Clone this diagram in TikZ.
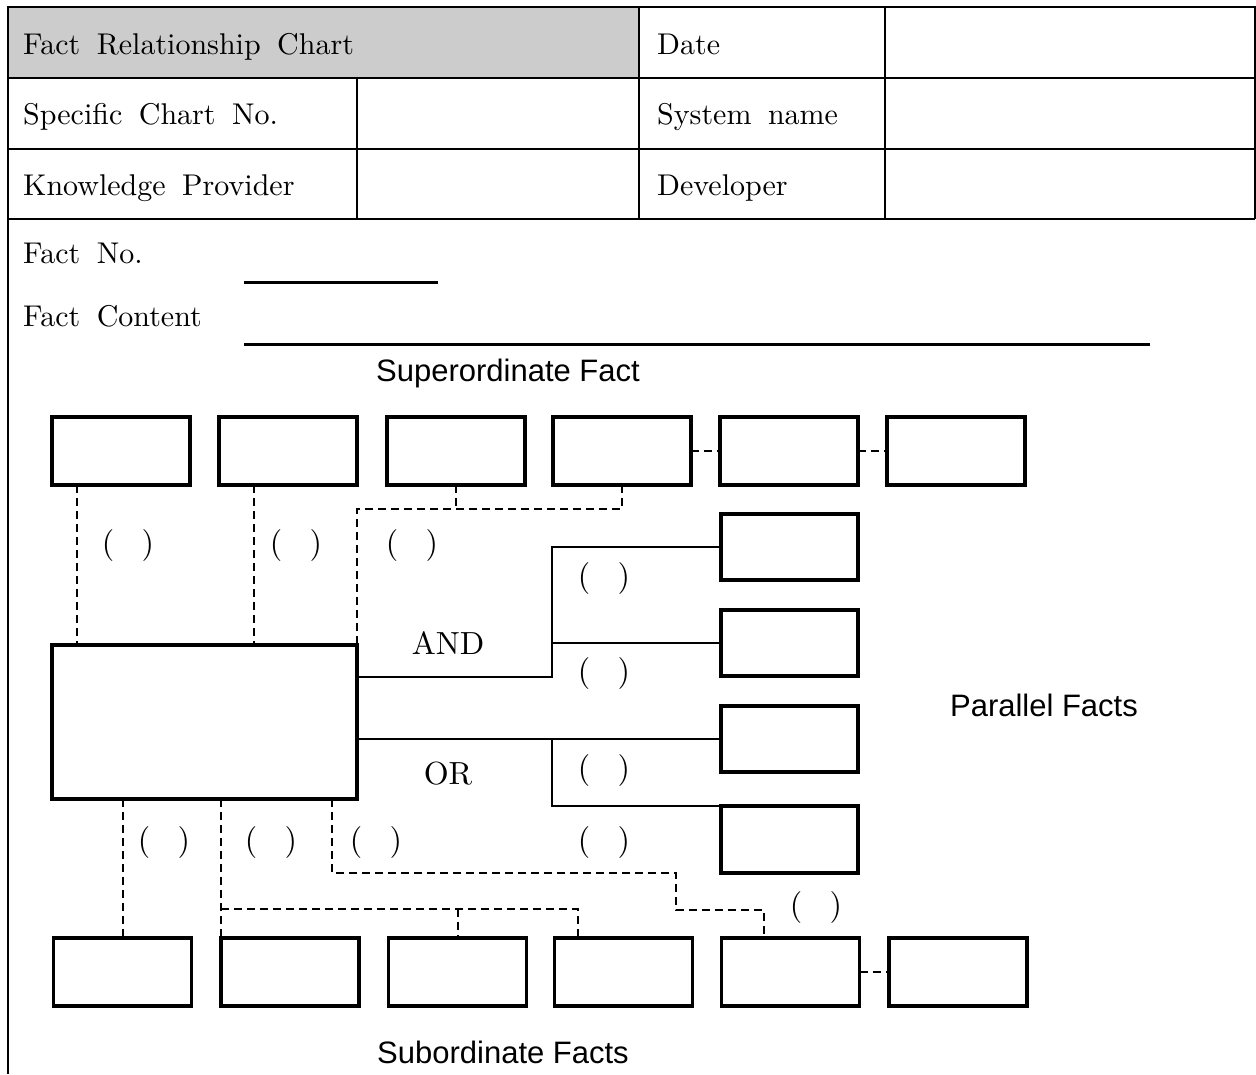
\documentclass[tikz,border=0pt]{standalone}
\usepackage{fontspec}
\setmainfont{lmroman10-regular.otf}
\newfontfamily\sansf{Liberation Sans}
\usetikzlibrary{calc}
\newcommand{\ws}{\hspace{0.55em}}
\newcommand{\pp}{(\hspace{0.85em})}
\begin{document}
\begin{tikzpicture}[x=1pt,y=-1pt,
  form/.style={line width=2.2pt},
  fbox/.style={draw,line width=3.8pt,minimum width=138pt,minimum height=68pt,inner sep=0pt,outer sep=0pt},
  pbox/.style={fbox,minimum width=137pt,minimum height=66.5pt},
  wire/.style={line width=1.8pt},
  dline/.style={line width=2pt,dash pattern=on 8pt off 5pt},
  lab/.style={inner sep=0pt,anchor=base west,font=\fontsize{30}{35}\selectfont},
  par/.style={inner sep=0pt,font=\fontsize{32}{37}\selectfont},
  sans/.style={inner sep=0pt,font=\sansf\fontsize{31}{36}\selectfont}
]
\useasboundingbox (0,0) rectangle (1256,1074);
% form
\fill[gray!40] (8,7) rectangle (639,78);
\draw[form] (8,1074) -- (8,7) -- (1255,7) -- (1255,219);
\draw[form] (8,78) -- (1255,78);
\draw[form] (8,149) -- (1255,149);
\draw[form] (8,219) -- (1255,219);
\draw[form] (639,7) -- (639,219);
\draw[form] (885,7) -- (885,219);
\draw[form] (357,78) -- (357,219);
\node[lab] (hdr) at (23,54) {Fact\ws Relationship\ws Chart};
\node[lab] (scn) at (23,124) {Specific\ws Chart\ws No.};
\node[lab] (kp) at (23,195) {Knowledge\ws Provider};
\node[lab] (dt) at (657,54) {Date};
\node[lab] (sn) at (657,124) {System\ws name};
\node[lab] (dv) at (657,195) {Developer};
\node[lab] (fno) at (23,263) {Fact\ws No.};
\node[lab] (fct) at (23,326) {Fact\ws Content};
\draw[line width=3pt] (244,282) -- (438,282);
\draw[line width=3pt] (244,344) -- (1150,344);
\node[sans] (sup) at (508,373) {Superordinate Fact};
\node[sans] (paf) at (1044,705) {Parallel Facts};
\node[sans] (sub) at (503,1052) {Subordinate Facts};
% boxes
\node[fbox] (t1) at (121,451) {};
\node[fbox] (t2) at (288,451) {};
\node[fbox] (t3) at (456,451) {};
\node[fbox] (t4) at (622,451) {};
\node[fbox] (t5) at (789,451) {};
\node[fbox] (t6) at (956,451) {};
\node[fbox,minimum width=305pt,minimum height=154pt] (main) at (204.5,722) {};
\node[pbox] (p1) at (789.5,547) {};
\node[pbox] (p2) at (789.5,643) {};
\node[pbox] (p3) at (789.5,739) {};
\node[pbox,minimum height=67.5pt] (p4) at (789.5,839.5) {};
\node[fbox] (b1) at (122.5,972) {};
\node[fbox] (b2) at (290,972) {};
\node[fbox] (b3) at (457.5,972) {};
\node[fbox] (b4) at (623.5,972) {};
\node[fbox] (b5) at (790.5,972) {};
\node[fbox] (b6) at (958,972) {};
% top dashed
\coordinate (ca) at (77,0);
\coordinate (cb) at (254,0);
\draw[dline] (t1.south -| ca) -- (main.north -| ca);
\draw[dline] (t2.south -| cb) -- (main.north -| cb);
\draw[dline] (t3.south) -- ++(0,24);
\draw[dline] (t4.south) -- ++(0,24) -| (main.north east);
\draw[dline] (t4.east) -- (t5.west);
\draw[dline] (t5.east) -- (t6.west);
% AND / OR
\coordinate (aj) at (552,0);
\draw[wire] ($(main.east)+(0,-45)$) -| (aj |- p1.west) -- (p1.west);
\draw[wire] (aj |- p2.west) -- (p2.west);
\draw[wire] (main.east |- p3.west) -- (p3.west);
\draw[wire] (aj |- p3.west) |- (p4.north west);
\node[par] (and) at (448,643) {AND};
\node[par] (or) at (448,774) {OR};
% bottom dashed
\coordinate (y1) at (0,909);
\coordinate (cd) at (578,0);
\coordinate (ce) at (332,0);
\coordinate (k1) at (676,873);
\coordinate (k2) at (764,910);
\draw[dline] (main.south -| b1.north) -- (b1.north);
\draw[dline] (main.south -| b2.north west) -- (b2.north west);
\draw[dline] (b2.north west |- y1) -| (cd |- b4.north);
\draw[dline] (b3.north |- y1) -- (b3.north);
\draw[dline] (main.south -| ce) |- (k1) |- (k2) -- (k2 |- b5.north);
\draw[dline] (b5.east) -- (b6.west);
% parenthesis labels
\node[par] (q1) at (128,545) {\pp};
\node[par] (q2) at (296,545) {\pp};
\node[par] (q3) at (412,545) {\pp};
\node[par] (q4) at (604,578) {\pp};
\node[par] (q5) at (604,673) {\pp};
\node[par] (q6) at (604,770) {\pp};
\node[par] (q7) at (604,842) {\pp};
\node[par] (q8) at (164,842) {\pp};
\node[par] (q9) at (271,842) {\pp};
\node[par] (q10) at (376,842) {\pp};
\node[par] (q11) at (816,907) {\pp};
\end{tikzpicture}
\end{document}
